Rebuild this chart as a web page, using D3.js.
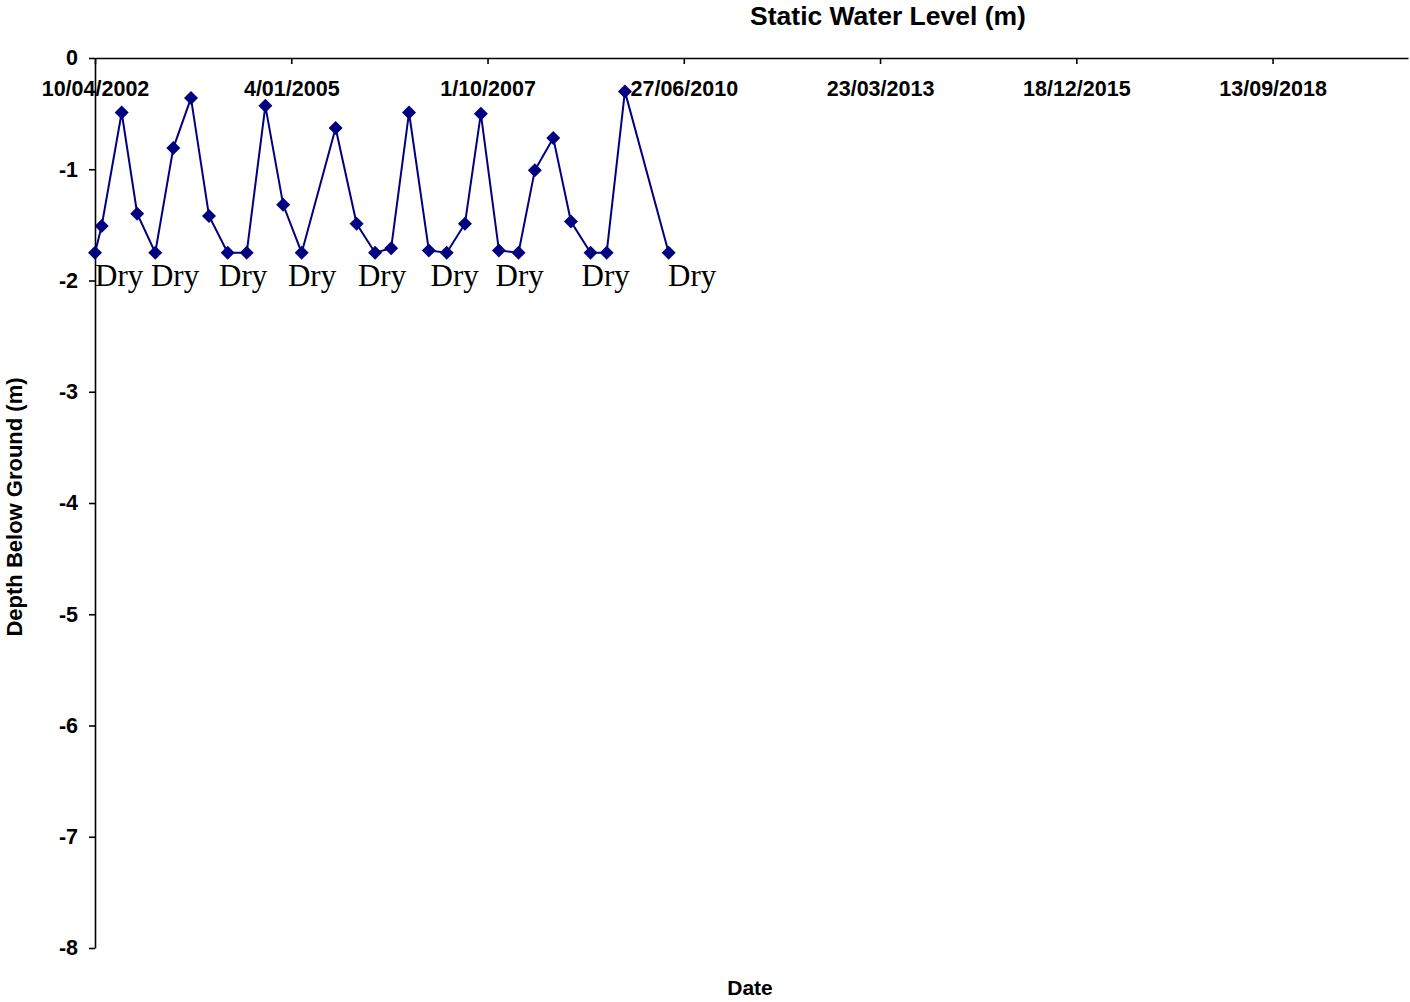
<!DOCTYPE html>
<html lang="en">
<head>
<meta charset="UTF-8" />
<title>Static Water Level</title>
<script src="https://d3js.org/d3.v7.min.js"></script>
<style>
  body { margin: 0; background: #fff; }
  svg { display: block; }
  .axis text { font-family: "Liberation Sans", Arial, sans-serif; font-weight: bold; font-size: 21.5px; fill: #000; }
  .axis path, .axis line { stroke: #000; stroke-width: 1.6; }
  .title { font-family: "Liberation Sans", Arial, sans-serif; font-weight: bold; }
  .dry { font-family: "Liberation Serif", "Times New Roman", serif; font-size: 31px; fill: #000; }
</style>
</head>
<body>
<svg id="chart" width="1410" height="1002"></svg>
<script>
// readings (date, depth below ground in m)
const dates = [
  "2002-04-10", "2002-05-14", "2002-08-24", "2002-11-11", "2003-02-11",
  "2003-05-14", "2003-08-12", "2003-11-12", "2004-02-15", "2004-05-22",
  "2004-08-25", "2004-11-24", "2005-02-26", "2005-08-18", "2005-12-03",
  "2006-03-07", "2006-05-28", "2006-08-27", "2006-12-06", "2007-03-07",
  "2007-06-08", "2007-08-28", "2007-11-28", "2008-03-07", "2008-05-29",
  "2008-08-31", "2008-11-29", "2009-03-09", "2009-05-30", "2009-08-31",
  "2010-04-11"
];
const depths = [
  -1.75, -1.51, -0.49, -1.40, -1.75,
  -0.81, -0.36, -1.42, -1.75, -1.75,
  -0.43, -1.32, -1.75, -0.63, -1.49,
  -1.75, -1.71, -0.49, -1.73, -1.75,
  -1.49, -0.50, -1.73, -1.75, -1.01,
  -0.72, -1.47, -1.75, -1.75, -0.30,
  -1.75
];
// "Dry" annotations (where the text starts)
const dryDates = [
  "2002-04-10", "2003-01-20", "2004-01-02", "2004-12-18", "2005-12-10",
  "2006-12-15", "2007-11-11", "2009-01-22", "2010-04-08"
];
const dryLevel = -1.75;
const xTicks = ["2002-04-10", "2005-01-04", "2007-10-01", "2010-06-27", "2013-03-23", "2015-12-18", "2018-09-13"];
const xDomain = ["2002-04-10", "2020-08-03"];
const yTicks = [0, -1, -2, -3, -4, -5, -6, -7, -8];

const parse = d3.utcParse("%Y-%m-%d");
const fmt = d3.utcFormat("%-d/%m/%Y");

const svg = d3.select("#chart");
const margin = { top: 58, right: 2, bottom: 54, left: 95 };
const width = +svg.attr("width") - margin.left - margin.right;
const height = +svg.attr("height") - margin.top - margin.bottom;
const g = svg.append("g").attr("transform", `translate(${margin.left},${margin.top})`);

const x = d3.scaleUtc().domain(xDomain.map(parse)).range([0, width]);
const y = d3.scaleLinear().domain([-8, 0]).range([height, 0]);

// y axis
g.append("g")
  .attr("class", "axis")
  .call(d3.axisLeft(y).tickValues(yTicks).tickSize(6).tickSizeOuter(0).tickPadding(11).tickFormat(d => String(d)));

// x axis sits at the top (y = 0), ticks pointing down
const xa = g.append("g")
  .attr("class", "axis")
  .call(d3.axisBottom(x).tickValues(xTicks.map(parse)).tickSize(6).tickSizeOuter(0).tickFormat(fmt));
xa.selectAll("text").attr("y", 23);

const pts = dates.map((d, i) => ({ date: parse(d), v: depths[i] }));

g.append("path")
  .datum(pts)
  .attr("fill", "none")
  .attr("stroke", "#000080")
  .attr("stroke-width", 2)
  .attr("d", d3.line().x(d => x(d.date)).y(d => y(d.v)));

g.selectAll(".pt")
  .data(pts)
  .enter()
  .append("path")
  .attr("class", "pt")
  .attr("transform", d => `translate(${x(d.date)},${y(d.v)})`)
  .attr("d", "M0,-7L7,0L0,7L-7,0Z")
  .attr("fill", "#000080");

g.selectAll(".dry")
  .data(dryDates)
  .enter()
  .append("text")
  .attr("class", "dry")
  .attr("x", d => x(parse(d)))
  .attr("y", y(dryLevel) + 33)
  .text("Dry");

// titles
svg.append("text")
  .attr("class", "title")
  .attr("x", 888)
  .attr("y", 25)
  .attr("text-anchor", "middle")
  .style("font-size", "26.5px")
  .text("Static Water Level (m)");

svg.append("text")
  .attr("class", "title")
  .attr("x", 750)
  .attr("y", 995)
  .attr("text-anchor", "middle")
  .style("font-size", "21px")
  .text("Date");

svg.append("text")
  .attr("class", "title")
  .attr("transform", "translate(22,507) rotate(-90)")
  .attr("text-anchor", "middle")
  .style("font-size", "22px")
  .text("Depth Below Ground (m)");
</script>
</body>
</html>
